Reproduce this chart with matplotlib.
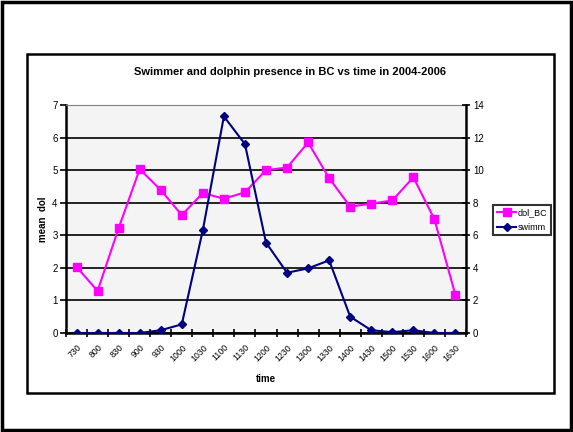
import matplotlib
matplotlib.use('Agg')
import matplotlib.pyplot as plt
from matplotlib.patches import Rectangle

plt.rcParams['font.family'] = ['Liberation Sans', 'DejaVu Sans']

times = ['730', '800', '830', '900', '930', '1000', '1030', '1100', '1130', '1200',
         '1230', '1300', '1330', '1400', '1430', '1500', '1530', '1600', '1630']
dol_BC = [2.03, 1.29, 3.22, 5.03, 4.39, 3.62, 4.30, 4.12, 4.32, 5.00,
          5.08, 5.85, 4.75, 3.88, 3.97, 4.07, 4.78, 3.49, 1.16]
swimm = [0, 0, 0, 0, 0.17, 0.53, 6.32, 13.3, 11.6, 5.55,
         3.70, 3.97, 4.46, 1.00, 0.17, 0.05, 0.17, 0, 0]

fig = plt.figure(figsize=(5.73, 4.32), dpi=100)

# outer and inner frames
fig.patches.append(Rectangle((0.003, 0.004), 0.994, 0.992, transform=fig.transFigure,
                             fill=False, edgecolor='black', linewidth=2.5))
fig.patches.append(Rectangle((27 / 573, 1 - 393 / 432), (554 - 27) / 573, (393 - 54) / 432,
                             transform=fig.transFigure, fill=False, edgecolor='black',
                             linewidth=1.8))

ax = fig.add_axes([66 / 573, 1 - 333 / 432, (466 - 66) / 573, (333 - 105) / 432])
ax.set_facecolor('#f4f4f4')
x = list(range(len(times)))

ax.set_xlim(-0.5, len(times) - 0.5)
ax.set_ylim(0, 7)
ax.set_yticks(range(0, 8))
ax.grid(axis='y', color='black', linewidth=1.2)
ax.set_axisbelow(True)
ax.set_xticks([i - 0.5 for i in range(len(times) + 1)])
ax.set_xticklabels([])
ax.set_xticks(x, minor=True)
ax.set_xticklabels(times, minor=True, rotation=45, ha='right', rotation_mode='anchor',
                   fontsize=6.3)
ax.tick_params(axis='x', which='major', direction='inout', length=6, width=1.2)
ax.tick_params(axis='x', which='minor', length=0, pad=7)
ax.tick_params(axis='y', direction='out', length=4, width=1.2, labelsize=7, pad=2)
for s in ['left', 'bottom']:
    ax.spines[s].set_linewidth(1.8)
ax.spines['top'].set_color('#808080')
ax.spines['right'].set_visible(False)

l1, = ax.plot(x, dol_BC, color='#ff00ff', marker='s', markersize=6, linewidth=1.5,
              label='dol_BC', zorder=3)
ax.set_xlabel('time', fontsize=7, fontweight='bold', labelpad=8)
ax.set_ylabel('mean  dol', fontsize=7, fontweight='bold', labelpad=3)

ax2 = ax.twinx()
ax2.set_ylim(0, 14)
ax2.set_yticks(range(0, 15, 2))
ax2.tick_params(axis='y', direction='inout', length=6, width=1.2, labelsize=7, pad=2)
ax2.spines['right'].set_linewidth(1.8)
ax2.spines['top'].set_visible(False)
ax2.spines['left'].set_visible(False)
ax2.spines['bottom'].set_visible(False)
l2, = ax2.plot(x, swimm, color='#000080', marker='D', markersize=4.5, linewidth=1.5,
               label='swimm', zorder=3)

fig.text(290.5 / 573, 1 - 72 / 432, 'Swimmer and dolphin presence in BC vs time in 2004-2006',
         fontsize=8, fontweight='bold', ha='center', va='center')

leg = fig.legend([l1, l2], ['dol_BC', 'swimm'], loc='center left',
                 bbox_to_anchor=(493 / 573, 1 - 220 / 432), fontsize=6.5, frameon=True,
                 fancybox=False, handlelength=2.2, handletextpad=0.1, borderpad=0.4,
                 labelspacing=0.6, borderaxespad=0)
leg.get_frame().set_edgecolor('black')
leg.get_frame().set_linewidth(1.5)

fig.savefig('out.png', dpi=100)
